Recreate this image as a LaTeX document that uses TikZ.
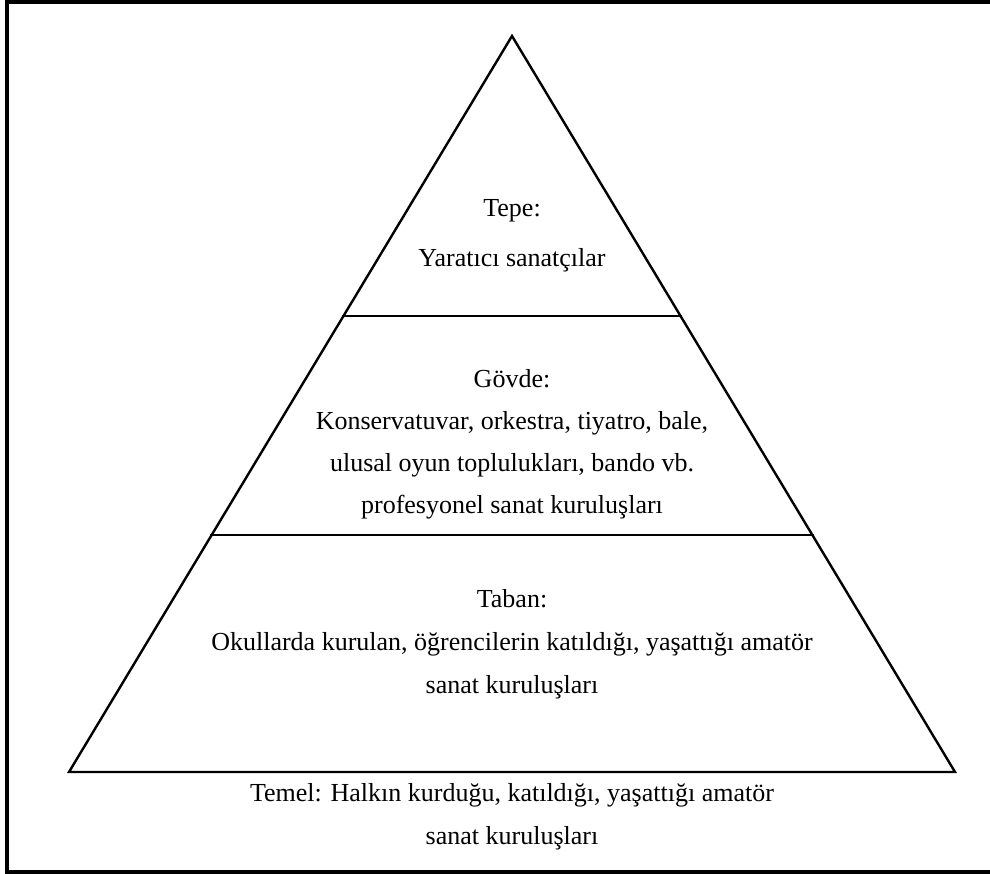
\documentclass[tikz,border=0pt]{standalone}
\usepackage{fontspec}
\setmainfont{Liberation Serif}
\usetikzlibrary{calc}
\tikzset{
  edge/.style={line width=2.4pt, line join=miter, line cap=rect},
  frame/.style={line width=3.6pt},
  lbl/.style={anchor=base, inner sep=0pt, font=\fontsize{26}{30}\selectfont}
}
\begin{document}
\begin{tikzpicture}[x=1pt,y=-1pt]
\useasboundingbox (0,0) rectangle (990,874);
% frame (right side lies beyond the picture)
\draw[frame] (7,1.8) rectangle (1000,872.2);
% pyramid
\coordinate (apex) at (512,36);
\coordinate (bl) at (69,772);
\coordinate (br) at (955,772);
\coordinate (t1) at ($(apex)!0.3804!(bl)$);
\coordinate (t2) at ($(apex)!0.3804!(br)$);
\coordinate (g1) at ($(apex)!0.6780!(bl)$);
\coordinate (g2) at ($(apex)!0.6780!(br)$);
\draw[edge] (apex) -- (bl) -- (br) -- cycle;
\draw[edge] (t1) -- (t2);
\draw[edge] (g1) -- (g2);
% texts
\node[lbl] (tepe) at (512,217) {Tepe:};
\node[lbl] (tepe2) at (512,267) {Yaratıcı sanatçılar};
\node[lbl] (govde) at (512,387) {Gövde:};
\node[lbl] (govde2) at (512,429) {Konservatuvar, orkestra, tiyatro, bale,};
\node[lbl] (govde3) at (512,471) {ulusal oyun toplulukları, bando vb.};
\node[lbl] (govde4) at (512,513) {profesyonel sanat kuruluşları};
\node[lbl] (taban) at (512,607) {Taban:};
\node[lbl] (taban2) at (512,650) {Okullarda kurulan, öğrencilerin katıldığı, yaşattığı amatör};
\node[lbl] (taban3) at (512,693) {sanat kuruluşları};
\node[lbl] (temel) at (512,801) {Temel: Halkın kurduğu, katıldığı, yaşattığı amatör};
\node[lbl] (temel2) at (512,844) {sanat kuruluşları};
\end{tikzpicture}
\end{document}
